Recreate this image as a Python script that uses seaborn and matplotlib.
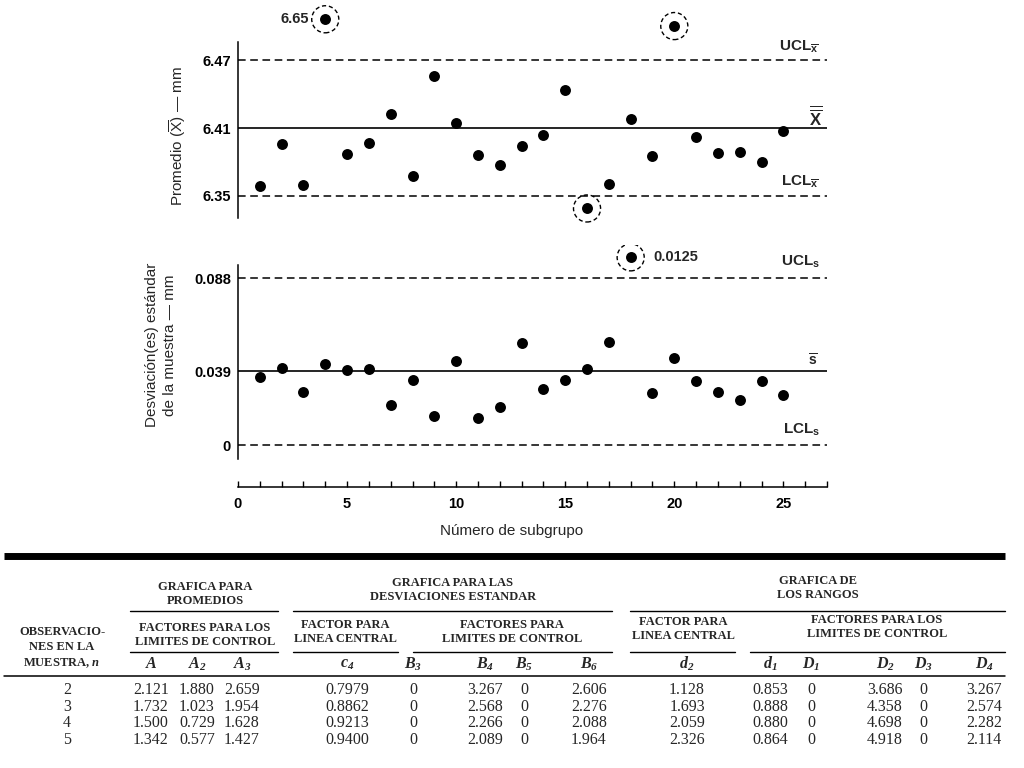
import matplotlib
matplotlib.use("Agg")
import matplotlib.pyplot as plt
import seaborn as sns

# ---------------- chart data ----------------
subgroups = list(range(1, 26))

# subgroup averages (mm); 4, 16 and 20 are out of control and sit on the
# broken part of the scale, so the value here is where they are drawn
xbar = [6.359, 6.396, 6.360, 6.506, 6.387, 6.397, 6.422, 6.368, 6.456, 6.414,
        6.386, 6.377, 6.394, 6.404, 6.444, 6.339, 6.361, 6.418, 6.385, 6.500,
        6.402, 6.388, 6.389, 6.380, 6.407]
xbar_out = [4, 16, 20]
xbar_ucl, xbar_cl, xbar_lcl = 6.47, 6.41, 6.35
xbar_ticks = [6.35, 6.41, 6.47]
xbar_ticklabels = ["6.35", "6.41", "6.47"]
xbar_note = "6.65"

# subgroup standard deviations (mm); 18 is out of control
s_vals = [0.0360, 0.0404, 0.0281, 0.0427, 0.0395, 0.0402, 0.0212, 0.0342, 0.0154, 0.0443,
          0.0142, 0.0198, 0.0536, 0.0293, 0.0342, 0.0399, 0.0541, 0.0989, 0.0276, 0.0460,
          0.0337, 0.0279, 0.0235, 0.0337, 0.0265]
s_out = [18]
s_ucl, s_cl, s_lcl = 0.088, 0.039, 0.0
s_ticks = [0.0, 0.039, 0.088]
s_ticklabels = ["0", "0.039", "0.088"]
s_note = "0.0125"

x_major = [0, 5, 10, 15, 20, 25]
x_minor = list(range(0, 28))

# ---------------- table data ----------------
n_obs = [2, 3, 4, 5]
f_A = [2.121, 1.732, 1.500, 1.342]
f_A2 = [1.880, 1.023, 0.729, 0.577]
f_A3 = [2.659, 1.954, 1.628, 1.427]
f_c4 = [0.7979, 0.8862, 0.9213, 0.9400]
f_B3 = [0, 0, 0, 0]
f_B4 = [3.267, 2.568, 2.266, 2.089]
f_B5 = [0, 0, 0, 0]
f_B6 = [2.606, 2.276, 2.088, 1.964]
f_d2 = [1.128, 1.693, 2.059, 2.326]
f_d1 = [0.853, 0.888, 0.880, 0.864]
f_D1 = [0, 0, 0, 0]
f_D2 = [3.686, 4.358, 4.698, 4.918]
f_D3 = [0, 0, 0, 0]
f_D4 = [3.267, 2.574, 2.282, 2.114]

sns.set_theme(style="white")
plt.rcParams["font.family"] = ["Liberation Sans", "DejaVu Sans"]
plt.rcParams["mathtext.fontset"] = "custom"
plt.rcParams["mathtext.rm"] = "Liberation Sans"
plt.rcParams["mathtext.bf"] = "Liberation Sans:bold"
plt.rcParams["mathtext.it"] = "Liberation Serif:italic:bold"
plt.rcParams["mathtext.sf"] = "Liberation Serif:italic:bold"

W, H = 1024, 768
DASH = (0, (5, 3))


def rect(l, t, r, b):
    return [l / W, 1 - b / H, (r - l) / W, (b - t) / H]


def control_panel(ax, y, out, ucl, cl, lcl, ticks, ticklabels):
    sns.scatterplot(x=subgroups, y=y, ax=ax, color="black", s=62,
                    linewidth=0, zorder=3, legend=False)
    ax.scatter([subgroups[i - 1] for i in out], [y[i - 1] for i in out],
               s=380, facecolors="none", edgecolors="black",
               linestyles=(0, (3, 2)), linewidths=1.0, zorder=3)
    ax.axhline(ucl, color="black", lw=1.1, ls=DASH)
    ax.axhline(cl, color="black", lw=1.2)
    ax.axhline(lcl, color="black", lw=1.1, ls=DASH)
    ax.set_xlim(0, 27)
    ax.set_yticks(ticks, labels=ticklabels)
    ax.tick_params(axis="y", length=0, pad=5, labelsize=10.5, colors="black")
    for lbl in ax.get_yticklabels():
        lbl.set_fontweight("bold")
    ax.spines["left"].set_color("black")
    ax.spines["left"].set_linewidth(1.1)
    ax.set_facecolor("none")


fig = plt.figure(figsize=(10.24, 7.68), dpi=100)

# ---- top: averages ----
ax1 = fig.add_axes(rect(238, 5, 827, 225))
control_panel(ax1, xbar, xbar_out, xbar_ucl, xbar_cl, xbar_lcl, xbar_ticks, xbar_ticklabels)
ax1.set_ylim(6.3244, 6.5186)
ax1.spines["left"].set_bounds(6.3306, 6.4859)
ax1.set_xticks([])
sns.despine(ax=ax1, bottom=True)
ax1.annotate(xbar_note, xy=(4, xbar[3]), xytext=(-12, 0), textcoords="offset points",
             ha="right", va="center", fontsize=10.5, fontweight="bold")
yt1 = ax1.get_yaxis_transform()
ax1.text(0.986, 6.4815, r"$\mathbf{UCL}_{\mathbf{\overline{x}}}$", transform=yt1,
         ha="right", va="center", fontsize=11)
ax1.text(0.991, 6.4206, r"$\mathbf{\overline{\overline{X}}}$", transform=yt1,
         ha="right", va="center", fontsize=12)
ax1.text(0.986, 6.3624, r"$\mathbf{LCL}_{\mathbf{\overline{x}}}$", transform=yt1,
         ha="right", va="center", fontsize=11)

# ---- bottom: standard deviations ----
ax2 = fig.add_axes(rect(238, 245, 827, 487))
control_panel(ax2, s_vals, s_out, s_ucl, s_cl, s_lcl, s_ticks, s_ticklabels)
ax2.set_ylim(-0.0221, 0.1054)
ax2.spines["left"].set_bounds(-0.0074, 0.0948)
sns.despine(ax=ax2)
ax2.spines["bottom"].set_color("black")
ax2.spines["bottom"].set_linewidth(1.1)
ax2.set_xticks(x_major, labels=[str(v) for v in x_major])
ax2.set_xticks(x_minor, minor=True)
ax2.tick_params(axis="x", which="both", direction="in", length=4, width=1,
                colors="black", bottom=True, pad=7, labelsize=10.5)
for lbl in ax2.get_xticklabels():
    lbl.set_fontweight("bold")
ax2.annotate(s_note, xy=(18, s_vals[17]), xytext=(16, 0), textcoords="offset points",
             ha="left", va="center", fontsize=10.5, fontweight="bold")
yt2 = ax2.get_yaxis_transform()
ax2.text(0.988, 0.0964, r"$\mathbf{UCL}_{\mathbf{s}}$", transform=yt2,
         ha="right", va="center", fontsize=11)
ax2.text(0.985, 0.0445, r"$\mathbf{\overline{s}}$", transform=yt2,
         ha="right", va="center", fontsize=10)
ax2.text(0.988, 0.0080, r"$\mathbf{LCL}_{\mathbf{s}}$", transform=yt2,
         ha="right", va="center", fontsize=11)

# ---- overlay in pixel coordinates: axis titles and the factor table ----
tab = fig.add_axes([0, 0, 1, 1], zorder=-1)
tab.set_xlim(0, W)
tab.set_ylim(H, 0)
tab.axis("off")

tab.text(178, 136, r"Promedio ($\overline{\mathrm{X}}$) — mm", rotation=90,
         ha="center", va="center", fontsize=11)
tab.text(161, 345, "Desviación(es) estándar\nde la muestra — mm", rotation=90,
         ha="center", va="center", fontsize=11, multialignment="center", linespacing=1.4)
tab.text(512, 531, "Número de subgrupo", ha="center", va="center", fontsize=11)

serif = ["Liberation Serif", "DejaVu Serif"]
hdr = dict(family=serif, fontweight="bold", fontsize=9, ha="center", va="center",
           linespacing=1.3)

# rules of the table
tab.plot([4, 1005], [556, 556], color="black", lw=5, solid_capstyle="butt")
for x0, x1 in [(130, 278), (293, 612), (630, 1005)]:
    tab.plot([x0, x1], [611, 611], color="black", lw=1.0)
for x0, x1 in [(130, 278), (293, 398), (413, 612), (630, 735), (750, 1005)]:
    tab.plot([x0, x1], [652, 652], color="black", lw=1.0)
tab.plot([4, 1005], [676, 676], color="black", lw=1.1)

tab.text(205, 594, "GRAFICA PARA\nPROMEDIOS", **hdr)
tab.text(453, 590, "GRAFICA PARA LAS\nDESVIACIONES ESTANDAR", **hdr)
tab.text(818, 588, "GRAFICA DE\nLOS RANGOS", **hdr)
tab.text(62, 648, "OBSERVACIO-\nNES EN LA\nMUESTRA, $n$", **hdr)
tab.text(205, 635, "FACTORES PARA LOS\nLIMITES DE CONTROL", **hdr)
tab.text(345, 632, "FACTOR PARA\nLINEA CENTRAL", **hdr)
tab.text(512, 632, "FACTORES PARA\nLIMITES DE CONTROL", **hdr)
tab.text(683, 629, "FACTOR PARA\nLINEA CENTRAL", **hdr)
tab.text(877, 627, "FACTORES PARA LOS\nLIMITES DE CONTROL", **hdr)

columns = [
    (r"$A$", 151, f_A, "{:.3f}"),
    (r"$A_{\mathsf{2}}$", 197, f_A2, "{:.3f}"),
    (r"$A_{\mathsf{3}}$", 242, f_A3, "{:.3f}"),
    (r"$c_{\mathsf{4}}$", 347, f_c4, "{:.4f}"),
    (r"$B_{\mathsf{3}}$", 413, f_B3, "{:d}"),
    (r"$B_{\mathsf{4}}$", 485, f_B4, "{:.3f}"),
    (r"$B_{\mathsf{5}}$", 524, f_B5, "{:d}"),
    (r"$B_{\mathsf{6}}$", 589, f_B6, "{:.3f}"),
    (r"$d_{\mathsf{2}}$", 687, f_d2, "{:.3f}"),
    (r"$d_{\mathsf{1}}$", 770, f_d1, "{:.3f}"),
    (r"$D_{\mathsf{1}}$", 811, f_D1, "{:d}"),
    (r"$D_{\mathsf{2}}$", 885, f_D2, "{:.3f}"),
    (r"$D_{\mathsf{3}}$", 923, f_D3, "{:d}"),
    (r"$D_{\mathsf{4}}$", 984, f_D4, "{:.3f}"),
]
row_y = [690, 707, 723, 740]

for label, x, vals, fmt in columns:
    tab.text(x, 664, label, ha="center", va="center", fontsize=11.5)
    for y, v in zip(row_y, vals):
        tab.text(x, y, fmt.format(v), family=serif, fontsize=11.5,
                 ha="center", va="center")
for y, n in zip(row_y, n_obs):
    tab.text(67, y, str(n), family=serif, fontsize=11.5, ha="center", va="center")

fig.savefig("out.png", dpi=100, facecolor="white")
